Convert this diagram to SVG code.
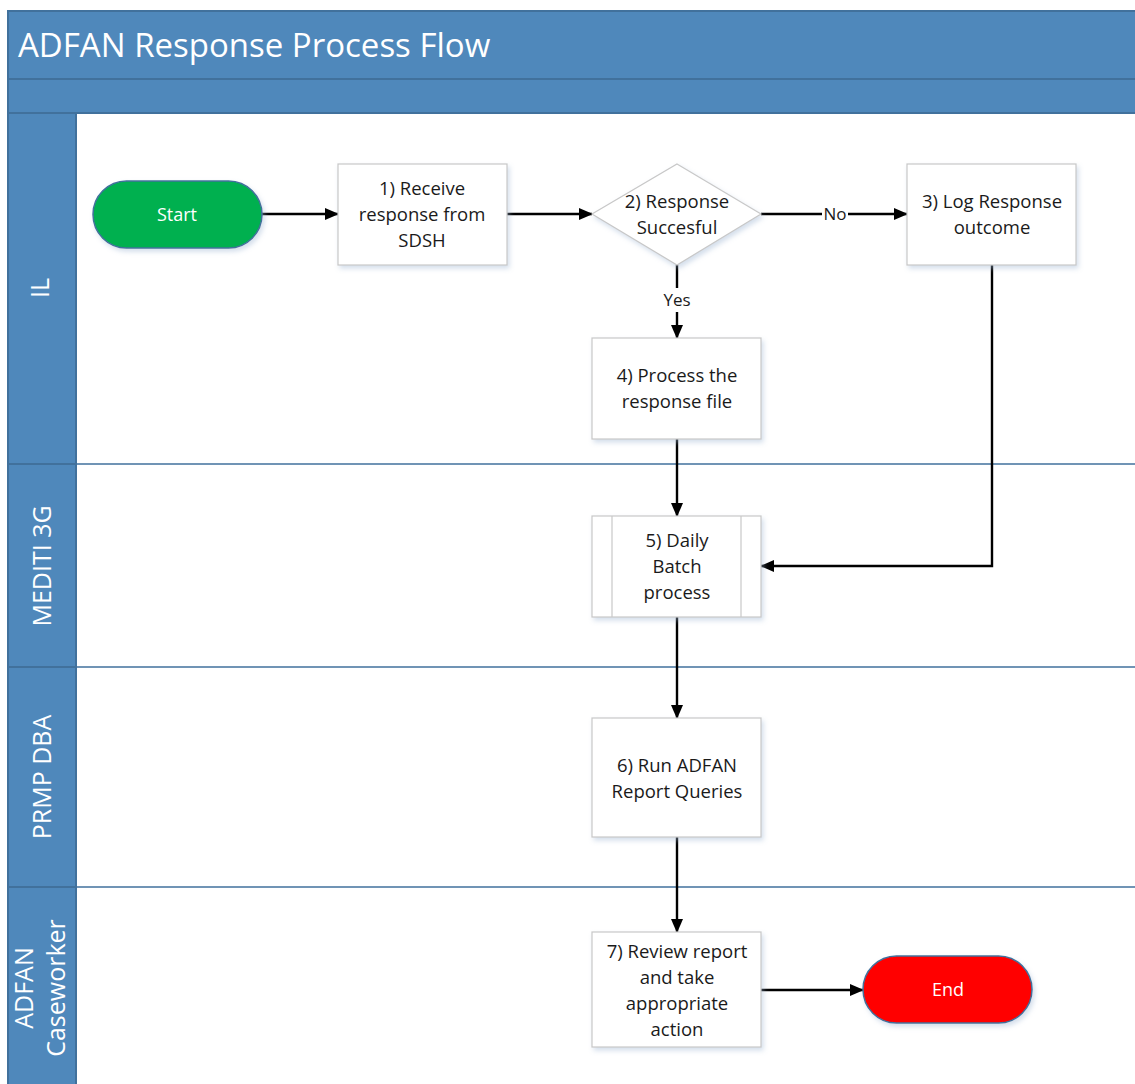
<svg xmlns="http://www.w3.org/2000/svg" width="1135" height="1084" viewBox="0 0 1135 1084">
  <defs>
    <marker id="arrow" markerWidth="14" markerHeight="12" refX="13" refY="6" orient="auto" markerUnits="userSpaceOnUse" viewBox="0 0 14 12">
      <path d="M0,0 L14,6 L0,12 z" fill="#000"/>
    </marker>
    <filter id="shadow" x="-10%" y="-10%" width="130%" height="130%">
      <feDropShadow dx="2" dy="3" stdDeviation="2.5" flood-color="#9fb6d3" flood-opacity="0.45"/>
    </filter>
  </defs>
  <style>
    .band { fill: #4f88bb; stroke: #41719c; stroke-width: 2; }
    .laneline { stroke: #41719c; stroke-width: 1.5; fill: none; }
    .box { fill: #ffffff; stroke: #c8c8c8; stroke-width: 1.2; filter: url(#shadow); }
    .lbl { font-family: "Open Sans", "Liberation Sans", sans-serif; font-size: 18.5px; fill: #1a1a1a; text-anchor: middle; }
    .term { font-family: "Open Sans", "Liberation Sans", sans-serif; font-size: 18px; fill: #ffffff; text-anchor: middle; }
    .lane { font-family: "Open Sans", "Liberation Sans", sans-serif; font-size: 25px; fill: #ffffff; text-anchor: middle; }
    .edge { stroke: #000; stroke-width: 2.4; fill: none; marker-end: url(#arrow); }
    .elbl { font-family: "Open Sans", "Liberation Sans", sans-serif; font-size: 17px; fill: #1a1a1a; text-anchor: middle; }
  </style>

  <rect width="1135" height="1084" fill="#ffffff"/>

  <!-- pool header -->
  <g id="pool">
    <rect class="band" x="8" y="11" width="1140" height="68"/>
    <rect class="band" x="8" y="79" width="1140" height="34"/>
    <text x="18" y="57" font-family="Open Sans, Liberation Sans, sans-serif" font-size="33" fill="#ffffff">ADFAN Response Process Flow</text>
  </g>

  <!-- swimlanes -->
  <g id="lanes">
    <rect class="band" x="8" y="113" width="68" height="351"/>
    <rect class="band" x="8" y="464" width="68" height="203"/>
    <rect class="band" x="8" y="667" width="68" height="220"/>
    <rect class="band" x="8" y="887" width="68" height="200"/>
    <line class="laneline" x1="76" y1="464" x2="1135" y2="464"/>
    <line class="laneline" x1="76" y1="667" x2="1135" y2="667"/>
    <line class="laneline" x1="76" y1="887" x2="1135" y2="887"/>
    <text class="lane" transform="translate(49,288) rotate(-90)">IL</text>
    <text class="lane" transform="translate(51,566) rotate(-90)">MEDITI 3G</text>
    <text class="lane" transform="translate(51,777) rotate(-90)">PRMP DBA</text>
    <text class="lane" transform="translate(33,988) rotate(-90)">ADFAN</text>
    <text class="lane" transform="translate(65,988) rotate(-90)">Caseworker</text>
  </g>

  <!-- connectors -->
  <g id="connectors">
    <line class="edge" x1="262" y1="214" x2="338" y2="214"/>
    <line class="edge" x1="507" y1="214" x2="592" y2="214"/>
    <line class="edge" x1="761" y1="214" x2="907" y2="214"/>
    <rect x="822" y="204" width="26" height="20" fill="#ffffff"/>
    <text class="elbl" x="835" y="220">No</text>
    <line class="edge" x1="677" y1="265" x2="677" y2="338"/>
    <rect x="658" y="288" width="38" height="24" fill="#ffffff"/>
    <text class="elbl" x="677" y="306">Yes</text>
    <line class="edge" x1="677" y1="439" x2="677" y2="516"/>
    <polyline class="edge" points="992,265 992,566 761,566"/>
    <line class="edge" x1="677" y1="617" x2="677" y2="718"/>
    <line class="edge" x1="677" y1="837" x2="677" y2="932"/>
    <line class="edge" x1="761" y1="990" x2="863" y2="990"/>
  </g>

  <!-- nodes -->
  <g id="start">
    <rect x="93" y="181" width="169" height="67" rx="33.5" fill="#00b050" stroke="#41719c" stroke-width="1.5" filter="url(#shadow)"/>
    <text class="term" x="177" y="221">Start</text>
  </g>

  <g id="step1">
    <rect class="box" x="338" y="164" width="169" height="101"/>
    <text class="lbl" x="422" y="195">1) Receive</text>
    <text class="lbl" x="422" y="221">response from</text>
    <text class="lbl" x="422" y="247">SDSH</text>
  </g>

  <g id="step2">
    <polygon class="box" points="677,164 761,214 677,265 592,214"/>
    <text class="lbl" x="677" y="208">2) Response</text>
    <text class="lbl" x="677" y="234">Succesful</text>
  </g>

  <g id="step3">
    <rect class="box" x="907" y="164" width="169" height="101"/>
    <text class="lbl" x="992" y="208">3) Log Response</text>
    <text class="lbl" x="992" y="234">outcome</text>
  </g>

  <g id="step4">
    <rect class="box" x="592" y="338" width="169" height="101"/>
    <text class="lbl" x="677" y="382">4) Process the</text>
    <text class="lbl" x="677" y="408">response file</text>
  </g>

  <g id="step5">
    <rect class="box" x="592" y="516" width="169" height="101"/>
    <line x1="612" y1="516" x2="612" y2="617" stroke="#c8c8c8" stroke-width="1.2"/>
    <line x1="741" y1="516" x2="741" y2="617" stroke="#c8c8c8" stroke-width="1.2"/>
    <text class="lbl" x="677" y="547">5) Daily</text>
    <text class="lbl" x="677" y="573">Batch</text>
    <text class="lbl" x="677" y="599">process</text>
  </g>

  <g id="step6">
    <rect class="box" x="592" y="718" width="169" height="119"/>
    <text class="lbl" x="677" y="772">6) Run ADFAN</text>
    <text class="lbl" x="677" y="798">Report Queries</text>
  </g>

  <g id="step7">
    <rect class="box" x="592" y="932" width="169" height="115"/>
    <text class="lbl" x="677" y="958">7) Review report</text>
    <text class="lbl" x="677" y="984">and take</text>
    <text class="lbl" x="677" y="1010">appropriate</text>
    <text class="lbl" x="677" y="1036">action</text>
  </g>

  <g id="end">
    <rect x="863" y="956" width="169" height="67" rx="33.5" fill="#ff0000" stroke="#41719c" stroke-width="1.5" filter="url(#shadow)"/>
    <text class="term" x="948" y="996">End</text>
  </g>
</svg>
